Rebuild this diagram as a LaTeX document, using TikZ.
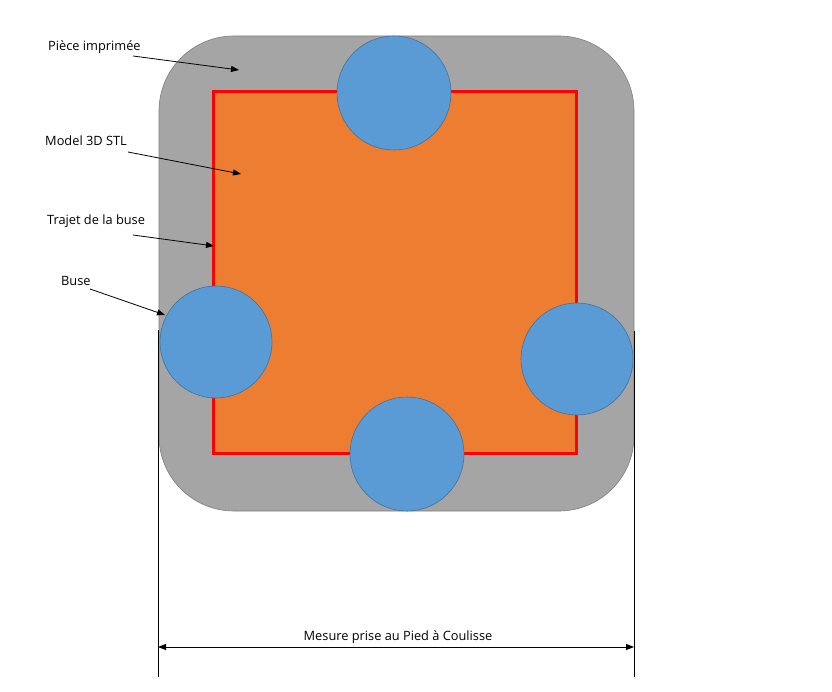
\documentclass[tikz,border=0pt]{standalone}
\usepackage{fontspec}
\setmainfont{Open Sans}
\usetikzlibrary{arrows.meta}
\definecolor{piece}{HTML}{A5A5A5}
\definecolor{pieceedge}{HTML}{7F7F7F}
\definecolor{model}{HTML}{ED7D31}
\definecolor{buse}{HTML}{5B9BD5}
\definecolor{buseedge}{HTML}{41719C}
\tikzset{
  lbl/.style={font=\fontsize{12.8}{15}\selectfont, inner sep=0pt, anchor=base west},
  ptr/.style={-{Triangle[length=8pt,width=6pt]}, line width=0.8pt},
  busecircle/.style={circle, fill=buse, draw=buseedge, line width=0.6pt, inner sep=0pt},
  dimline/.style={line width=1pt},
}
\begin{document}
\begin{tikzpicture}[x=1pt,y=-1pt]
\useasboundingbox (0,0) rectangle (832,692);
% printed part
\draw[fill=piece, draw=pieceedge, line width=0.6pt, rounded corners=75pt] (159,36) rectangle (634,511);
% model
\draw[fill=model, draw=red, line width=3pt] (213,92) rectangle (576,453);
% nozzles
\node[busecircle, minimum size=114pt] (btop) at (394,93) {};
\node[busecircle, minimum size=112pt] (bleft) at (216,342) {};
\node[busecircle, minimum size=112pt] (bright) at (577,359) {};
\node[busecircle, minimum size=114pt] (bbot) at (407,454) {};
% labels
\node[lbl] (lpiece) at (48,51) {Pièce imprimée};
\node[lbl] (lmodel) at (45,146) {Model 3D STL};
\node[lbl] (ltrajet) at (47,225) {Trajet de la buse};
\node[lbl] (lbuse) at (61,286) {Buse};
\coordinate (tpiece) at (239,70);
\coordinate (tmodel) at (241,174);
\coordinate (ttrajet) at (214,246);
\coordinate (tbuse) at (165,315);
\draw[ptr] (133,56) -- (tpiece);
\draw[ptr] (128,152) -- (tmodel);
\draw[ptr] (133,235) -- (ttrajet);
\draw[ptr] (90,289) -- (tbuse);
% dimension
\coordinate (dl1) at (158,330);
\coordinate (dl2) at (158,677);
\coordinate (dr1) at (634,331);
\coordinate (dr2) at (634,677);
\coordinate (al) at (158,647);
\coordinate (ar) at (634,647);
\draw[dimline] (dl1) -- (dl2);
\draw[dimline] (dr1) -- (dr2);
\draw[ptr, {Triangle[length=8pt,width=6pt]}-{Triangle[length=8pt,width=6pt]}] (al) -- (ar);
\node[font=\fontsize{12.8}{15}\selectfont, inner sep=0pt, anchor=base] (ldim) at (398,640) {Mesure prise au Pied à Coulisse};
\end{tikzpicture}
\end{document}
